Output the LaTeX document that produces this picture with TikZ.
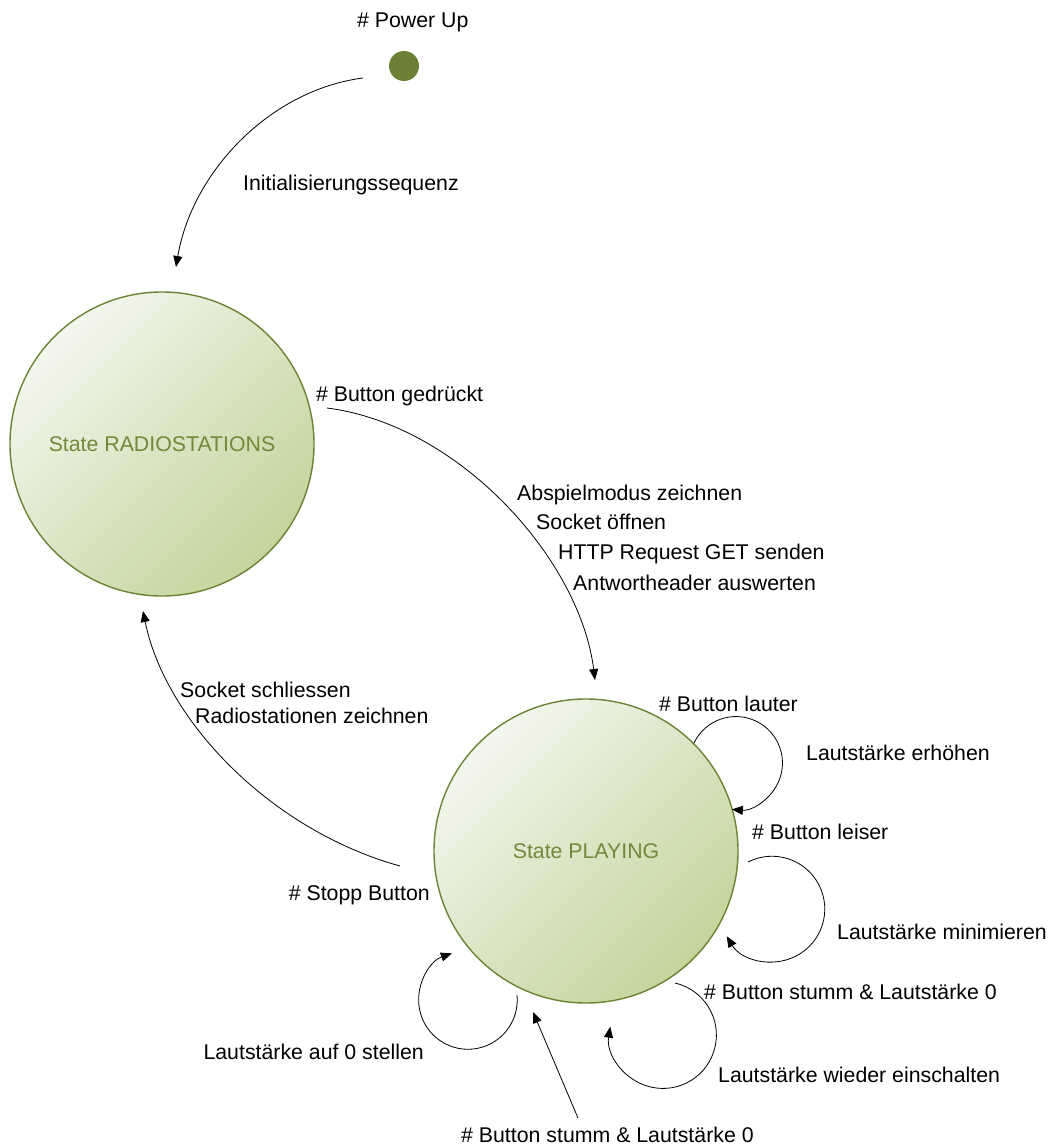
\documentclass[tikz,border=0pt]{standalone}
\usepackage{fontspec}
\setmainfont{Liberation Sans}
\usetikzlibrary{arrows.meta}
\definecolor{stborder}{RGB}{108,130,52}
\definecolor{stlight}{RGB}{244,247,238}
\definecolor{stmid}{RGB}{218,229,196}
\definecolor{stdark}{RGB}{196,213,156}
\definecolor{sttext}{RGB}{112,138,58}
\definecolor{dotc}{RGB}{106,129,54}
\begin{document}
\begin{tikzpicture}[x=1pt,y=1pt,
  lbl/.style={inner sep=0pt, text height=15.3pt, text depth=0pt, font=\fontsize{21.3}{25}\selectfont},
  state/.style={circle, draw=stborder, line width=1.4pt, minimum size=304pt, inner sep=0pt,
    top color=stlight, bottom color=stdark, middle color=stmid, shading angle=45,
    text=sttext, font=\fontsize{21.3}{25}\selectfont},
  conn/.style={line width=0.8pt, -{Triangle[length=11pt,width=9pt]}}]
\useasboundingbox (0,0) rectangle (1052,-1148);

% states
\node[state] (rs) at (162,-444) {State RADIOSTATIONS};
\node[state] (pl) at (586,-851) {State PLAYING};
\node[circle, fill=dotc, minimum size=30pt, inner sep=0pt] (pu) at (404,-66) {};

% connector end points
\coordinate (a1s) at (363,-78);
\coordinate (a1e) at (176,-267);
\coordinate (a2s) at (327,-408);
\coordinate (a2e) at (595,-680);
\coordinate (a3s) at (400,-866);
\coordinate (a3e) at (143,-611);
\coordinate (l5s) at (748,-862);
\coordinate (l6s) at (675,-983);
\coordinate (l7s) at (517,-995);
\coordinate (s1s) at (578,-1118);
\coordinate (s1e) at (533,-1012);

% connectors
\draw[conn] (a1s) .. controls (270,-90) and (192,-172) .. (a1e);
\draw[conn] (a2s) .. controls (460,-425) and (580,-560) .. (a2e);
\draw[conn] (a3s) .. controls (270,-830) and (165,-720) .. (a3e);
\draw[conn] (pl.45.5) arc[start angle=154.5, end angle=-95, radius=46.5];
\draw[conn] (l5s) arc[start angle=117, end angle=-149, radius=52.8];
\draw[conn] (l6s) arc[start angle=77, end angle=-189, radius=53.4];
\draw[conn] (l7s) arc[start angle=5.8, end angle=-251, radius=49.3];
\draw[conn] (s1s) -- (s1e);

% labels
\node[lbl, anchor=west] (t1) at (357,-20) {\# Power Up};
\node[lbl, anchor=west] (t2) at (243,-183) {Initialisierungssequenz};
\node[lbl, anchor=west] (t3) at (316,-394) {\# Button gedrückt};
\node[lbl, anchor=west] (t4) at (517,-493) {Abspielmodus zeichnen};
\node[lbl, anchor=west] (t5) at (536,-522) {Socket öffnen};
\node[lbl, anchor=west] (t6) at (558,-552) {HTTP Request GET senden};
\node[lbl, anchor=west] (t7) at (573,-583) {Antwortheader auswerten};
\node[lbl, anchor=west] (t8) at (180,-690) {Socket schliessen};
\node[lbl, anchor=west] (t9) at (195,-716) {Radiostationen zeichnen};
\node[lbl, anchor=east] (t10) at (430,-893) {\# Stopp Button};
\node[lbl, anchor=west] (t11) at (659,-704) {\# Button lauter};
\node[lbl, anchor=west] (t12) at (806,-753) {Lautstärke erhöhen};
\node[lbl, anchor=west] (t13) at (752,-832) {\# Button leiser};
\node[lbl, anchor=west] (t14) at (837,-932) {Lautstärke minimieren};
\node[lbl, anchor=west] (t15) at (704,-992) {\# Button stumm \& Lautstärke 0};
\node[lbl, anchor=west] (t16) at (718,-1075) {Lautstärke wieder einschalten};
\node[lbl, anchor=east] (t17) at (424,-1052) {Lautstärke auf 0 stellen};
\node[lbl, anchor=west] (t18) at (461,-1135) {\# Button stumm \& Lautstärke 0};
\end{tikzpicture}
\end{document}
